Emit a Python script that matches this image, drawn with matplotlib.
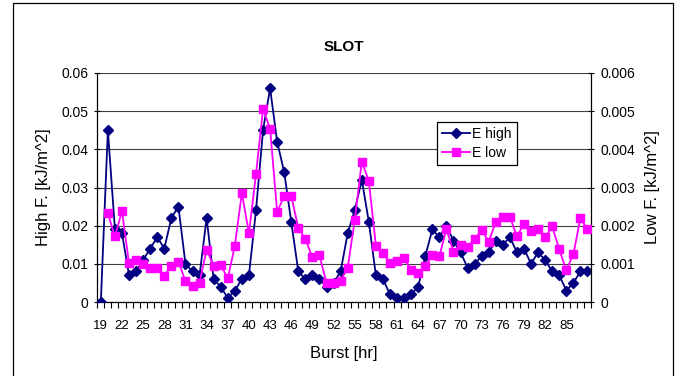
import matplotlib
matplotlib.use("Agg")
import matplotlib.pyplot as plt
import numpy as np
from matplotlib.ticker import FuncFormatter, FixedLocator
from matplotlib.lines import Line2D

plt.rcParams['font.family'] = ['Liberation Sans', 'DejaVu Sans']

bursts = list(range(19, 89))
e_high = [0.000, 0.045, 0.019, 0.018, 0.007, 0.008, 0.011, 0.014, 0.017, 0.014,
          0.022, 0.025, 0.010, 0.008, 0.007, 0.022, 0.006, 0.004, 0.001, 0.003,
          0.006, 0.007, 0.024, 0.045, 0.056, 0.042, 0.034, 0.021, 0.008, 0.006,
          0.007, 0.006, 0.004, 0.005, 0.008, 0.018, 0.024, 0.032, 0.021, 0.007,
          0.006, 0.002, 0.001, 0.001, 0.002, 0.004, 0.012, 0.019, 0.017, 0.020,
          0.016, 0.013, 0.009, 0.010, 0.012, 0.013, 0.016, 0.015, 0.017, 0.013,
          0.014, 0.010, 0.013, 0.011, 0.008, 0.007, 0.003, 0.005, 0.008, 0.008]
e_low = [np.nan, 0.00232, 0.00172, 0.00238, 0.00101, 0.00111, 0.00099, 0.00089, 0.00089, 0.00069,
         0.00094, 0.00106, 0.00054, 0.00042, 0.00051, 0.00137, 0.00095, 0.00097, 0.00062, 0.00147,
         0.00286, 0.00180, 0.00335, 0.00506, 0.00454, 0.00236, 0.00278, 0.00278, 0.00194, 0.00165,
         0.00117, 0.00122, 0.00050, 0.00050, 0.00056, 0.00090, 0.00214, 0.00368, 0.00317, 0.00148,
         0.00128, 0.00102, 0.00108, 0.00115, 0.00083, 0.00075, 0.00094, 0.00122, 0.00120, 0.00191,
         0.00132, 0.00150, 0.00143, 0.00165, 0.00188, 0.00158, 0.00210, 0.00223, 0.00223, 0.00172,
         0.00205, 0.00185, 0.00191, 0.00169, 0.00198, 0.00138, 0.00083, 0.00125, 0.00220, 0.00190]
x_labels = list(range(19, 86, 3))
left_ticks = [0, 0.01, 0.02, 0.03, 0.04, 0.05, 0.06]
right_ticks = [0, 0.001, 0.002, 0.003, 0.004, 0.005, 0.006]

W, H = 686, 376
fig = plt.figure(figsize=(W / 100, H / 100), dpi=100)
fig.patch.set_facecolor('white')

# chart-area border
fig.add_artist(plt.Rectangle((12.5 / W, -0.01), (673 - 12.5) / W, 1 - 2.5 / H + 0.01,
                             transform=fig.transFigure, fill=False, edgecolor='black', lw=0.9))

ax = fig.add_axes([97.3 / W, 1 - 302 / H, (591 - 97.3) / W, (302 - 73) / H])
ax2 = ax.twinx()

ax.set_xlim(18.5, 88.5)
ax.set_ylim(0, 0.06)
ax2.set_ylim(0, 0.006)

for t in left_ticks:
    ax.axhline(t, color='#404040', lw=0.8, zorder=0)

ax.plot(bursts, e_high, color='#000080', lw=1.3, marker='D', ms=4.6, zorder=3)
ax2.plot(bursts, e_low, color='#FF00FF', lw=1.3, marker='s', ms=6, zorder=3)

fmt = FuncFormatter(lambda v, p: '0' if v == 0 else ('%g' % round(v, 4)))
ax.yaxis.set_major_locator(FixedLocator(left_ticks))
ax.yaxis.set_major_formatter(fmt)
ax2.yaxis.set_major_locator(FixedLocator(right_ticks))
ax2.yaxis.set_major_formatter(fmt)

ax.set_xticks(x_labels)
ax.set_xticklabels([str(v) for v in x_labels])
ax.set_xticks(np.arange(18.5, 89, 1), minor=True)
ax.tick_params(axis='x', which='major', length=0, pad=13, labelsize=9.5)
ax.tick_params(axis='x', which='minor', length=4, direction='out', width=0.8)
ax.tick_params(axis='y', length=5, width=0.8, direction='inout', labelsize=10, pad=4)
ax2.tick_params(axis='y', length=5, width=0.8, direction='inout', labelsize=10, pad=4)

for a in (ax, ax2):
    a.spines['top'].set_visible(False)
    for s in ('left', 'right', 'bottom'):
        a.spines[s].set_linewidth(0.9)
        a.spines[s].set_color('black')
ax.spines['right'].set_visible(False)
ax2.spines['left'].set_visible(False)
ax2.spines['bottom'].set_visible(False)

ax.set_ylabel('High F. [kJ/m^2]', fontsize=12, labelpad=7)
ax2.set_ylabel('Low F. [kJ/m^2]', fontsize=12, labelpad=7)
ax.set_xlabel('Burst [hr]', fontsize=12, labelpad=10)
fig.text(344 / W, 1 - 47 / H, 'SLOT', ha='center', va='center', fontsize=11, fontweight='bold')

handles = [Line2D([], [], color='#000080', lw=1.3, marker='D', ms=4.6),
           Line2D([], [], color='#FF00FF', lw=1.3, marker='s', ms=6)]
leg = ax2.legend(handles, ['E high', 'E low'], loc='upper left',
                 bbox_to_anchor=(0.688, 0.786), fontsize=10, frameon=True,
                 fancybox=False, framealpha=1, edgecolor='black',
                 handlelength=2.0, handletextpad=0.2, borderpad=0.35,
                 labelspacing=0.35, borderaxespad=0)
leg.get_frame().set_linewidth(0.9)
leg.set_zorder(10)

fig.savefig('out.png', dpi=100, facecolor='white')
